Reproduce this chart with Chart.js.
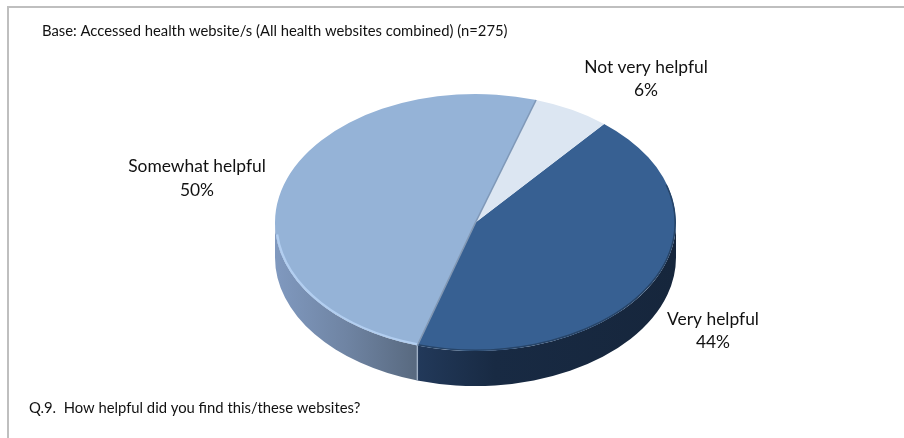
<!DOCTYPE html>
<html><head><meta charset="utf-8">
<style>html,body{margin:0;padding:0;background:#fff}canvas{display:block}</style>
<script src="https://cdn.jsdelivr.net/npm/chart.js@4"></script></head>
<body><canvas id="c" width="904" height="438"></canvas>
<script>
const categories = ['Very helpful', 'Somewhat helpful', 'Not very helpful'];
const values = [43.6, 50.2, 6.2];
const percentLabels = ['44%', '50%', '6%'];
const baseNote = 'Base: Accessed health website/s (All health websites combined) (n=275)';
const questionNote = 'Q.9.  How helpful did you find this/these websites?';
const faceColors = ['#376092', '#95b3d7', '#dce6f2'];

const SQUASH = 128.5 / 200.5, DEPTH = 35, CY = 222.5;
const FONT = 'Lato, "Open Sans", sans-serif';

const pie3d = {
  id: 'pie3d',
  beforeDatasetDraw(chart) {
    const ctx = chart.ctx, arcs = chart.getDatasetMeta(0).data;
    const cx = arcs[0].x, r = arcs[0].outerRadius, ry = r * SQUASH;
    const sideFill = [
      [[0, '#22395a'], [0.3, '#182a43'], [1, '#16263c']],
      [[0, '#8099bf'], [0.5, '#6f84a3'], [1, '#58697f']]
    ];
    arcs.forEach((a, i) => {
      let s = a.startAngle, e = a.endAngle;
      while (s >= Math.PI) { s -= 2 * Math.PI; e -= 2 * Math.PI; }
      const a0 = Math.max(s, 0), a1 = Math.min(e, Math.PI);
      if (a1 <= a0) return;
      const x0 = cx + r * Math.cos(a0), x1 = cx + r * Math.cos(a1);
      const g = ctx.createLinearGradient(Math.min(x0, x1), 0, Math.max(x0, x1), 0);
      sideFill[i].forEach(st => g.addColorStop(st[0], st[1]));
      ctx.beginPath();
      ctx.ellipse(cx, CY, r, ry, 0, a0, a1);
      ctx.ellipse(cx, CY + DEPTH, r, ry, 0, a1, a0, true);
      ctx.closePath();
      ctx.fillStyle = g;
      ctx.fill();
    });
    const seam = arcs[1].startAngle;
    const sx = cx + r * Math.cos(seam), sy = CY + ry * Math.sin(seam);
    ctx.beginPath(); ctx.moveTo(sx, sy); ctx.lineTo(sx, sy + DEPTH);
    ctx.strokeStyle = '#9fb0c6'; ctx.lineWidth = 1.4; ctx.stroke();

    ctx.save();
    ctx.translate(cx, CY); ctx.scale(1, SQUASH); ctx.translate(-cx, -arcs[0].y);
  },
  afterDatasetDraw(chart) {
    const ctx = chart.ctx, arcs = chart.getDatasetMeta(0).data;
    ctx.restore();
    const cx = arcs[0].x, r = arcs[0].outerRadius, ry = r * SQUASH;
    const rim = (a0, a1, col, w, blur) => {
      ctx.save();
      ctx.beginPath(); ctx.ellipse(cx, CY, r, ry, 0, 0, 2 * Math.PI); ctx.clip();
      ctx.filter = 'blur(' + blur + 'px)';
      ctx.beginPath(); ctx.ellipse(cx, CY, r - w / 2, ry - w / 2, 0, a0, a1);
      ctx.strokeStyle = col; ctx.lineWidth = w; ctx.stroke();
      ctx.restore();
    };
    rim(arcs[1].startAngle, Math.PI * 0.97, '#b2cef0', 2.4, 0.7);
    rim(-0.3, arcs[0].endAngle, '#274467', 1.6, 0.7);
    const radial = (ang, col, w) => {
      ctx.beginPath(); ctx.moveTo(cx, CY);
      ctx.lineTo(cx + r * Math.cos(ang), CY + ry * Math.sin(ang));
      ctx.strokeStyle = col; ctx.lineWidth = w; ctx.stroke();
    };
    radial(arcs[1].startAngle, '#8197b3', 1.6);
    radial(arcs[2].startAngle, '#7f98b8', 1.6);
  }
};

const annotations = {
  id: 'annotations',
  afterDraw(chart) {
    const ctx = chart.ctx;
    ctx.save();
    ctx.strokeStyle = '#bfbfbf'; ctx.lineWidth = 2;
    ctx.beginPath(); ctx.moveTo(8, 438); ctx.lineTo(8, 7); ctx.lineTo(904, 7); ctx.stroke();
    ctx.fillStyle = '#111';
    ctx.textBaseline = 'middle';
    ctx.textAlign = 'left';
    ctx.font = '14.8px ' + FONT;
    ctx.fillText(baseNote, 42, 31);
    ctx.fillText(questionNote, 29, 408);
    ctx.textAlign = 'center';
    ctx.font = '17.4px ' + FONT;
    const anchors = [[713, 319, 342], [197, 166, 190], [646, 67, 90]];
    categories.forEach((c, i) => {
      ctx.fillText(c, anchors[i][0], anchors[i][1]);
      ctx.fillText(percentLabels[i], anchors[i][0], anchors[i][2]);
    });
    ctx.restore();
  }
};

new Chart(document.getElementById('c'), {
  type: 'pie',
  data: { labels: categories, datasets: [{ data: values, backgroundColor: faceColors, borderWidth: 0, clip: false }] },
  options: {
    responsive: false, animation: false, events: [],
    radius: 200.5, rotation: 39.9,
    layout: { padding: { left: 47 } },
    plugins: { legend: { display: false }, tooltip: { enabled: false }, title: { display: false } }
  },
  plugins: [pie3d, annotations]
});
</script></body></html>
